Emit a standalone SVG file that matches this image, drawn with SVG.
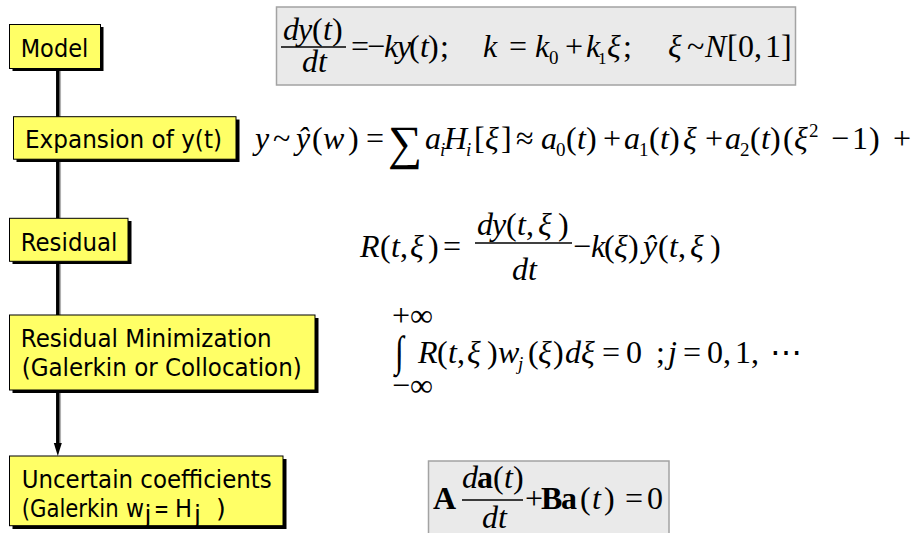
<svg xmlns="http://www.w3.org/2000/svg" width="915" height="533" viewBox="0 0 915 533">
<style>
.box{fill:#ffff66;stroke:#000;stroke-width:1}
.sh{fill:#000}
.lbl{font-family:"DejaVu Sans","Liberation Sans",sans-serif;font-size:25px;fill:#000}
.m{font-family:"Liberation Serif","Times New Roman","DejaVu Serif",serif;font-size:32px;fill:#000}
.i{font-style:italic}
.b{font-weight:bold}
.s{font-size:19px}
.eq{fill:#eaeaea;stroke:#a3a3a3;stroke-width:1.5}
.bar{stroke:#000;stroke-width:1.4}
.ln{stroke:#000;stroke-width:3.5;fill:none}
.lns{stroke:#b0b0b0;stroke-width:1.5;fill:none}
</style>

<g id="connectors">
<path class="lns" d="M60.3,68 V117 M60.3,159 V218 M60.3,261 V315 M60.3,390 V446"/>
<path class="ln" d="M57.8,68 V117 M57.8,159 V218 M57.8,261 V315 M57.8,390 V445"/>
<path d="M53.8,443 L61.8,443 L57.8,456 Z" fill="#000"/>
</g>

<g id="model">
<rect class="sh" x="12.5" y="27" width="91" height="44"/>
<rect class="box" x="9.5" y="24.5" width="91" height="44"/>
<text class="lbl" x="20.7" y="57" textLength="67.6" lengthAdjust="spacingAndGlyphs">Model</text>
</g>

<g id="expansion">
<rect class="sh" x="16.5" y="119.5" width="223" height="42.5"/>
<rect class="box" x="13.5" y="116.7" width="222.5" height="42.5"/>
<text class="lbl" x="25" y="148.3" textLength="197" lengthAdjust="spacingAndGlyphs">Expansion of y(t)</text>
</g>

<g id="residual">
<rect class="sh" x="12.5" y="221" width="119" height="43"/>
<rect class="box" x="9.5" y="218.3" width="118.5" height="43"/>
<text class="lbl" x="20.7" y="250.7" textLength="96.6" lengthAdjust="spacingAndGlyphs">Residual</text>
</g>

<g id="minimization">
<rect class="sh" x="12.5" y="318" width="306" height="75"/>
<rect class="box" x="9.5" y="315" width="305.5" height="75"/>
<text class="lbl" x="20.7" y="346.7" textLength="251" lengthAdjust="spacingAndGlyphs">Residual Minimization</text>
<text class="lbl" x="21.7" y="375.7" textLength="280" lengthAdjust="spacingAndGlyphs">(Galerkin or Collocation)</text>
</g>

<g id="coefficients">
<rect class="sh" x="12.5" y="459" width="274" height="70"/>
<rect class="box" x="9.5" y="456" width="273.5" height="69.7"/>
<text class="lbl" x="21.7" y="488.3" textLength="250" lengthAdjust="spacingAndGlyphs">Uncertain coefficients</text>
<text class="lbl" x="21.7" y="517.3" textLength="97" lengthAdjust="spacingAndGlyphs">(Galerkin</text>
<text class="lbl" x="126" y="517.3" textLength="18" lengthAdjust="spacingAndGlyphs">w</text>
<text class="lbl" x="144.5" y="523" font-size="14">j</text>
<text class="lbl" x="154" y="517.3" textLength="15" lengthAdjust="spacingAndGlyphs">=</text>
<text class="lbl" x="175" y="517.3" textLength="17" lengthAdjust="spacingAndGlyphs">H</text>
<text class="lbl" x="194" y="523" font-size="14">j</text>
<text class="lbl" x="216" y="517.3">)</text>
</g>

<g id="eq-model">
<rect class="eq" x="276.5" y="7" width="519" height="78"/>
<text class="m" y="39.5"><tspan class="i" x="283">d</tspan><tspan class="i" x="298">y</tspan><tspan x="312">(</tspan><tspan class="i" x="323">t</tspan><tspan x="332">)</tspan></text>
<line class="bar" x1="281" y1="47" x2="346" y2="47"/>
<text class="m i" y="72"><tspan x="302">d</tspan><tspan x="318">t</tspan></text>
<text class="m" y="57"><tspan x="351">=</tspan><tspan x="367">−</tspan><tspan class="i" x="384">k</tspan><tspan class="i" x="397">y</tspan><tspan x="409">(</tspan><tspan class="i" x="420">t</tspan><tspan x="428">)</tspan><tspan x="440">;</tspan><tspan class="i" x="483">k</tspan><tspan x="509">=</tspan><tspan class="i" x="535">k</tspan><tspan class="s" x="549" y="64">0</tspan><tspan x="565" y="57">+</tspan><tspan class="i" x="586">k</tspan><tspan x="598" y="64" font-size="17">1</tspan><tspan class="i" x="607" y="57">ξ</tspan><tspan x="623">;</tspan><tspan class="i" x="668">ξ</tspan><tspan x="687">~</tspan><tspan class="i" x="705">N</tspan><tspan x="727">[</tspan><tspan x="738">0</tspan><tspan x="754">,</tspan><tspan x="765">1</tspan><tspan x="781">]</tspan></text>
</g>

<g id="eq-expansion">
<text class="m" y="149"><tspan class="i" x="255">y</tspan><tspan x="273">~</tspan><tspan class="i" x="296">ŷ</tspan><tspan x="312">(</tspan><tspan class="i" x="323">w</tspan><tspan x="348">)</tspan><tspan x="366">=</tspan><tspan x="388" y="159" font-size="48">∑</tspan><tspan class="i" x="425" y="149">a</tspan><tspan class="s i" x="440" y="156">i</tspan><tspan class="i" x="444" y="149">H</tspan><tspan class="s i" x="466" y="156">i</tspan><tspan x="474" y="149">[</tspan><tspan class="i" x="485">ξ</tspan><tspan x="501">]</tspan><tspan x="516">≈</tspan><tspan class="i" x="541">a</tspan><tspan class="s" x="556" y="156">0</tspan><tspan x="566" y="149">(</tspan><tspan class="i" x="577">t</tspan><tspan x="586">)</tspan><tspan x="603">+</tspan><tspan class="i" x="624">a</tspan><tspan class="s" x="639" y="156">1</tspan><tspan x="649" y="149">(</tspan><tspan class="i" x="660">t</tspan><tspan x="669">)</tspan><tspan class="i" x="683">ξ</tspan><tspan x="705">+</tspan><tspan class="i" x="725">a</tspan><tspan class="s" x="740" y="156">2</tspan><tspan x="750" y="149">(</tspan><tspan class="i" x="761">t</tspan><tspan x="770">)</tspan><tspan x="783">(</tspan><tspan class="i" x="794">ξ</tspan><tspan class="s" x="809" y="137">2</tspan><tspan x="831" y="149">−</tspan><tspan x="852">1</tspan><tspan x="869">)</tspan><tspan x="893">+</tspan></text>
</g>

<g id="eq-residual">
<text class="m" y="257"><tspan class="i" x="360">R</tspan><tspan x="380">(</tspan><tspan class="i" x="391">t</tspan><tspan x="400">,</tspan><tspan class="i" x="410">ξ</tspan><tspan x="428">)</tspan><tspan x="443">=</tspan><tspan x="573">−</tspan><tspan class="i" x="591">k</tspan><tspan x="604">(</tspan><tspan class="i" x="614">ξ</tspan><tspan x="628">)</tspan><tspan class="i" x="643">ŷ</tspan><tspan x="658">(</tspan><tspan class="i" x="669">t</tspan><tspan x="678">,</tspan><tspan class="i" x="690">ξ</tspan><tspan x="710">)</tspan></text>
<text class="m" y="235"><tspan class="i" x="477">d</tspan><tspan class="i" x="492">y</tspan><tspan x="506">(</tspan><tspan class="i" x="517">t</tspan><tspan x="526">,</tspan><tspan class="i" x="538">ξ</tspan><tspan x="558">)</tspan></text>
<line class="bar" x1="475" y1="243" x2="572" y2="243"/>
<text class="m i" y="280"><tspan x="512">d</tspan><tspan x="528">t</tspan></text>
</g>

<g id="eq-minimization">
<text class="m" x="392" y="326" font-size="19">+∞</text>
<text class="m" font-size="54" transform="translate(395,366) scale(1,1.35)">∫</text>
<text class="m" x="392" y="396" font-size="19">−∞</text>
<text class="m" y="363"><tspan class="i" x="418">R</tspan><tspan x="437">(</tspan><tspan class="i" x="448">t</tspan><tspan x="457">,</tspan><tspan class="i" x="467">ξ</tspan><tspan x="487">)</tspan><tspan class="i" x="498">w</tspan><tspan class="s i" x="518" y="370">j</tspan><tspan x="528" y="363">(</tspan><tspan class="i" x="538">ξ</tspan><tspan x="553">)</tspan><tspan class="i" x="565">d</tspan><tspan class="i" x="581">ξ</tspan><tspan x="602">=</tspan><tspan x="626">0</tspan><tspan x="656">;</tspan><tspan class="i" x="668">j</tspan><tspan x="683">=</tspan><tspan x="707">0</tspan><tspan x="723">,</tspan><tspan x="735">1</tspan><tspan x="751">,</tspan><tspan x="770">⋯</tspan></text>
</g>

<g id="eq-coefficients">
<rect class="eq" x="428.5" y="461" width="240.5" height="90"/>
<text class="m b" x="433" y="509">A</text>
<text class="m" y="488"><tspan class="i" x="462">d</tspan><tspan class="b" x="477">a</tspan><tspan x="493">(</tspan><tspan class="i" x="504">t</tspan><tspan x="513">)</tspan></text>
<line class="bar" x1="462" y1="500" x2="523" y2="500"/>
<text class="m i" y="528"><tspan x="482">d</tspan><tspan x="498">t</tspan></text>
<text class="m" y="509"><tspan x="525">+</tspan><tspan class="b" x="541">B</tspan><tspan class="b" x="561">a</tspan><tspan x="580">(</tspan><tspan class="i" x="592">t</tspan><tspan x="604">)</tspan><tspan x="625">=</tspan><tspan x="647">0</tspan></text>
</g>
</svg>
